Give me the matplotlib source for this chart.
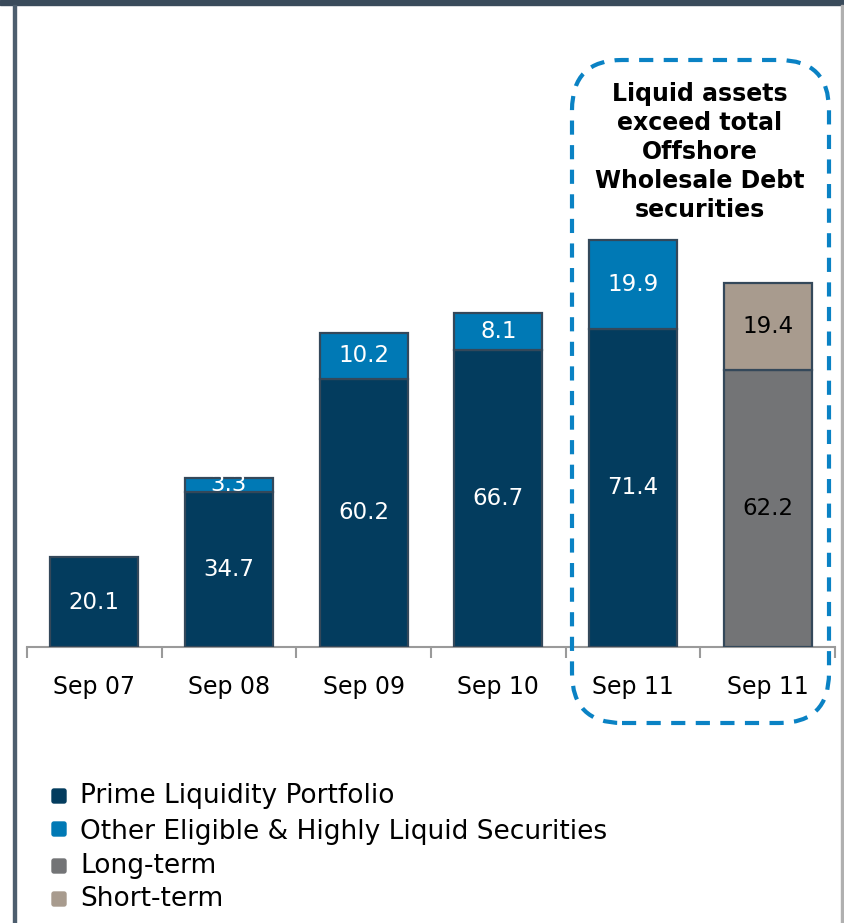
import matplotlib
matplotlib.use("Agg")
import matplotlib.pyplot as plt
from matplotlib.patches import Rectangle, FancyBboxPatch
import numpy as np

categories = ["Sep 07", "Sep 08", "Sep 09", "Sep 10", "Sep 11", "Sep 11"]
prime = [20.1, 34.7, 60.2, 66.7, 71.4, 0]
other = [0, 3.3, 10.2, 8.1, 19.9, 0]
long_term = [0, 0, 0, 0, 0, 62.2]
short_term = [0, 0, 0, 0, 0, 19.4]
series_names = ["Prime Liquidity Portfolio", "Other Eligible & Highly Liquid Securities",
                "Long-term", "Short-term"]
colors = ["#033c5e", "#0079b5", "#737476", "#a89b8e"]
label_colors = ["white", "white", "black", "black"]
note = "Liquid assets\nexceed total\nOffshore\nWholesale Debt\nsecurities"

W, H = 844, 923
fig = plt.figure(figsize=(W / 100, H / 100), dpi=100)
plt.rcParams['font.family'] = ['DejaVu Sans']

def fx(px): return px / W
def fy(py): return 1 - py / H

ax = fig.add_axes([fx(27), fy(647), fx(835) - fx(27), fy(20) - fy(647)])
ax.set_xlim(-0.5, 5.5)
ax.set_ylim(0, 627 / 4.46)

x = np.arange(len(categories))
bw = 0.653
edge = "#34485a"
series = [prime, other, long_term, short_term]
bottom = np.zeros(len(categories))
for vals, c, lc in zip(series, colors, label_colors):
    vals = np.array(vals, dtype=float)
    mask = vals > 0
    ax.bar(x[mask], vals[mask], bw, bottom=bottom[mask], color=c,
           edgecolor=edge, linewidth=1.6, zorder=3)
    for xi, v, b in zip(x[mask], vals[mask], bottom[mask]):
        ax.text(xi, b + v / 2, f"{v:.1f}", ha="center", va="center",
                color=lc, fontsize=16.5, zorder=4)
    bottom = bottom + vals

for s in ["top", "right", "left"]:
    ax.spines[s].set_visible(False)
ax.spines["bottom"].set_color("#9a9a9a")
ax.spines["bottom"].set_linewidth(1.5)
ax.set_yticks([])
ax.set_xticks(x)
ax.set_xticklabels(categories, fontsize=17)
ax.tick_params(axis="x", which="major", length=0, pad=20)
ax.set_xticks(np.arange(-0.5, 6.0, 1.0), minor=True)
ax.tick_params(axis="x", which="minor", length=8, width=1.5, color="#9a9a9a")

# frame
fig.patches.append(Rectangle((0, fy(5)), 1, fy(0) - fy(5), transform=fig.transFigure,
                             color="#3a4b5b", zorder=0))
fig.patches.append(Rectangle((fx(13), 0), fx(3), fy(5), transform=fig.transFigure,
                             color="#4d5e6e", zorder=0))
fig.patches.append(Rectangle((fx(841), 0), fx(2), fy(5), transform=fig.transFigure,
                             color="#b0b0b0", zorder=0))

# dashed rounded box
box = FancyBboxPatch((572, H - 723), 829 - 572, 723 - 60,
                     boxstyle="round,pad=0,rounding_size=50",
                     transform=None, fill=False, edgecolor="#0a82c4",
                     linewidth=3.0, linestyle=(0, (3.4, 2.5)), zorder=5)
fig.patches.append(box)
fig.text(fx(700), fy(152), note, ha="center", va="center", fontsize=17,
         fontweight="bold", linespacing=1.27)

# legend
leg_y = [796, 832, 866, 899]
mark_y = [796, 829, 866, 899]
for name, c, yy, my in zip(series_names, colors, leg_y, mark_y):
    fig.patches.append(FancyBboxPatch((52, H - my - 7), 14, 14,
                                      boxstyle="round,pad=0,rounding_size=2",
                                      transform=None, color=c))
    fig.text(fx(80), fy(yy), name, ha="left", va="center", fontsize=19)

fig.savefig("out.png", dpi=100)
